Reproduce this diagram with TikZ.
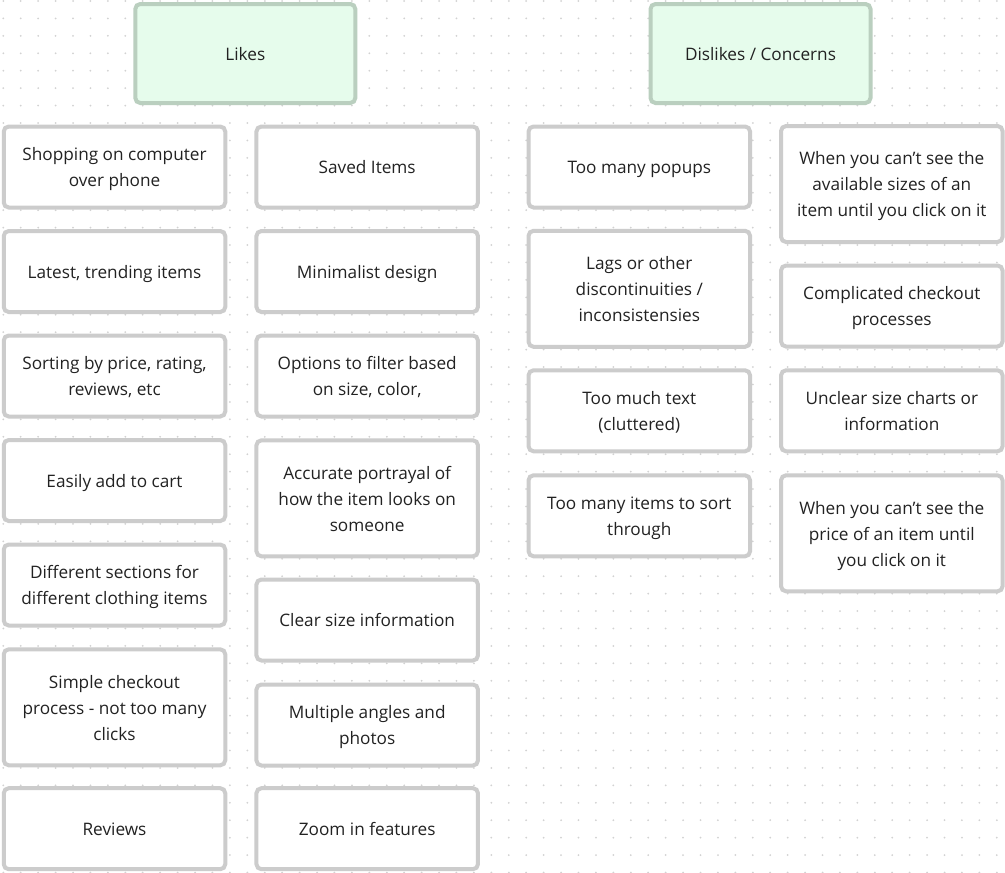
\documentclass[tikz,border=0pt]{standalone}
\usepackage{fontspec}
\setmainfont{Open Sans}
\definecolor{dotc}{HTML}{D2D2D2}
\definecolor{cardline}{HTML}{CCCCCC}
\definecolor{headline}{HTML}{BACFBF}
\definecolor{headfill}{HTML}{E6FCEC}
\definecolor{txt}{HTML}{222222}
\newcommand\cardtext[1]{\raisebox{-1.6pt}[\height][\depth]{\begin{tabular}{@{}c@{}}#1\end{tabular}}}
\tikzset{
  card/.style={draw=cardline, line width=4pt, fill=white, rounded corners=5pt,
    minimum width=221.5pt, minimum height=81pt, inner sep=0pt,
    text=txt, font=\fontsize{17.2}{26}\selectfont},
  tall/.style={minimum height=116pt},
  head/.style={card, draw=headline, fill=headfill, minimum width=220pt, minimum height=99pt}
}
\begin{document}
\begin{tikzpicture}[x=1pt, y=-1pt]
\useasboundingbox (0,0) rectangle (1005,873);
\fill[white] (0,0) rectangle (1005,873);
\foreach \i in {0,...,57}{
  \foreach \j in {0,...,50}{
    \fill[dotc] (3.3+17.43*\i, 1+17.43*\j) circle (1pt);
  }
}
% headers
\node[head] (likes) at (245.3,53.5) {\cardtext{Likes}};
\node[head] (dislikes) at (760.5,53.5) {\cardtext{Dislikes / Concerns}};
% column 1
\node[card] (c11) at (114.5,167) {\cardtext{Shopping on computer\\over phone}};
\node[card] (c12) at (114.5,271.5) {\cardtext{Latest, trending items}};
\node[card] (c13) at (114.5,376) {\cardtext{Sorting by price, rating,\\reviews, etc}};
\node[card] (c14) at (114.5,480.5) {\cardtext{Easily add to cart}};
\node[card] (c15) at (114.5,585) {\cardtext{Different sections for\\different clothing items}};
\node[card, tall] (c16) at (114.5,707.3) {\cardtext{Simple checkout\\process - not too many\\clicks}};
\node[card] (c17) at (114.5,828.7) {\cardtext{Reviews}};
% column 2
\node[card] (c21) at (367.2,167) {\cardtext{Saved Items}};
\node[card] (c22) at (367.2,271.5) {\cardtext{Minimalist design}};
\node[card] (c23) at (367.2,376) {\cardtext{Options to filter based\\on size, color,}};
\node[card, tall] (c24) at (367.2,498.3) {\cardtext{Accurate portrayal of\\how the item looks on\\someone}};
\node[card] (c25) at (367.2,620) {\cardtext{Clear size information}};
\node[card] (c26) at (367.2,725) {\cardtext{Multiple angles and\\photos}};
\node[card] (c27) at (367.2,828.7) {\cardtext{Zoom in features}};
% column 3
\node[card] (c31) at (639.3,167) {\cardtext{Too many popups}};
\node[card, tall] (c32) at (639.3,288.8) {\cardtext{Lags or other\\discontinuities /\\inconsistensies}};
\node[card] (c33) at (639.3,410.8) {\cardtext{Too much text\\(cluttered)}};
\node[card] (c34) at (639.3,515.8) {\cardtext{Too many items to sort\\through}};
% column 4
\node[card, tall] (c41) at (891.8,184) {\cardtext{When you can’t see the\\available sizes of an\\item until you click on it}};
\node[card] (c42) at (891.8,306) {\cardtext{Complicated checkout\\processes}};
\node[card] (c43) at (891.8,410.8) {\cardtext{Unclear size charts or\\information}};
\node[card, tall] (c44) at (891.8,533.3) {\cardtext{When you can’t see the\\price of an item until\\you click on it}};
\end{tikzpicture}
\end{document}
